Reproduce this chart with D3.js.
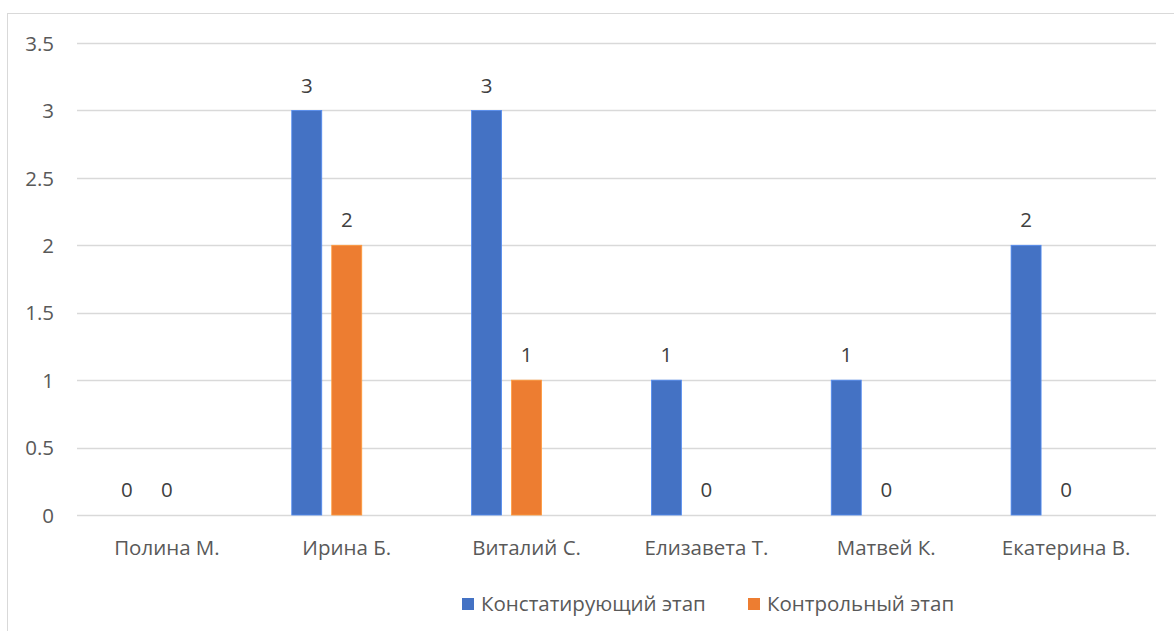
<!DOCTYPE html>
<html>
<head>
<meta charset="utf-8">
<script src="https://cdn.jsdelivr.net/npm/d3@7"></script>
<style>
  html, body { margin: 0; padding: 0; background: #fff; }
  svg { display: block; font-family: "Open Sans", "Noto Sans", sans-serif; }
</style>
</head>
<body>
<svg id="chart" width="1174" height="631"></svg>
<script>
// Students and their results at the two stages
const categories = ["Полина М.", "Ирина Б.", "Виталий С.", "Елизавета Т.", "Матвей К.", "Екатерина В."];
const stage1 = [0, 3, 3, 1, 1, 2];   // Констатирующий этап
const stage2 = [0, 2, 1, 0, 0, 0];   // Контрольный этап
const seriesNames = ["Констатирующий этап", "Контрольный этап"];
const seriesColors = ["#4472C4", "#ED7D31"];
const yTicks = [0, 0.5, 1, 1.5, 2, 2.5, 3, 3.5];
// cluster slots (third slot left empty in the cluster layout)
const slots = [0, 1, 2];

(function () {
  const svg = d3.select("#chart");
  const W = 1174, H = 631;
  const FS = 20.5;

  // chart frame
  svg.append("rect")
    .attr("x", 7.5).attr("y", 13.5)
    .attr("width", W + 10).attr("height", H + 10)
    .attr("fill", "none").attr("stroke", "#D9D9D9").attr("stroke-width", 1);

  const plotL = 77, plotR = 1156, plotT = 43, plotB = 515;

  const x = d3.scaleBand().domain(categories).range([plotL, plotR]);
  const y = d3.scaleLinear().domain([0, 3.5]).range([plotB, plotT]);
  const half = 55;
  const xs = d3.scaleBand().domain(slots).range([-half, half]).paddingInner(0.25);

  // grid lines
  svg.append("g").selectAll("line").data(yTicks).join("line")
    .attr("x1", plotL).attr("x2", plotR)
    .attr("y1", d => Math.round(y(d)) + 0.5).attr("y2", d => Math.round(y(d)) + 0.5)
    .attr("stroke", "#D9D9D9").attr("stroke-width", 1.3);

  // y tick labels
  const yAxis = d3.axisLeft(y).tickValues(yTicks).tickSize(0).tickPadding(0)
    .tickFormat(d => String(d));
  const yg = svg.append("g").attr("transform", "translate(54,0)").call(yAxis);
  yg.select(".domain").remove();
  yg.selectAll("text").attr("fill", "#595959").attr("font-size", FS)
    .attr("font-family", "'Open Sans', sans-serif").attr("dy", "0.35em");

  // x category labels
  const xAxis = d3.axisBottom(x).tickSize(0).tickPadding(0);
  const xg = svg.append("g").attr("transform", `translate(0,${plotB + 33})`).call(xAxis);
  xg.select(".domain").remove();
  xg.selectAll("text").attr("fill", "#595959").attr("font-size", FS)
    .attr("font-family", "'Open Sans', sans-serif").attr("dy", "0.35em");

  const rows = categories.map((c, i) => ({ c, vals: [stage1[i], stage2[i]] }));

  const groups = svg.append("g").selectAll("g").data(rows).join("g")
    .attr("transform", d => `translate(${x(d.c) + x.bandwidth() / 2},0)`);

  const cells = groups.selectAll("g.cell")
    .data(d => d.vals.map((v, k) => ({ v, k })))
    .join("g").attr("class", "cell");

  cells.append("rect")
    .attr("x", d => xs(d.k))
    .attr("width", xs.bandwidth())
    .attr("y", d => y(d.v))
    .attr("height", d => y(0) - y(d.v))
    .attr("fill", d => seriesColors[d.k])
    .attr("stroke", d => d.v > 0 ? d3.color(seriesColors[d.k]).brighter(0.6) : "none")
    .attr("stroke-width", 0.8);

  cells.append("text")
    .attr("x", d => xs(d.k) + xs.bandwidth() / 2)
    .attr("y", d => y(d.v) - 25)
    .attr("text-anchor", "middle")
    .attr("dy", "0.35em")
    .attr("fill", "#404040").attr("font-size", FS)
    .text(d => d.v);

  // legend
  const legend = svg.append("g").attr("transform", "translate(0,604)");
  const legendX = [462, 748];
  seriesNames.forEach((name, k) => {
    legend.append("rect").attr("x", legendX[k]).attr("y", -6).attr("width", 12).attr("height", 12)
      .attr("fill", seriesColors[k]);
    legend.append("text").attr("x", legendX[k] + 19).attr("y", 0)
      .attr("dy", "0.35em")
      .attr("fill", "#595959").attr("font-size", FS).text(name);
  });
})();
</script>
</body>
</html>
